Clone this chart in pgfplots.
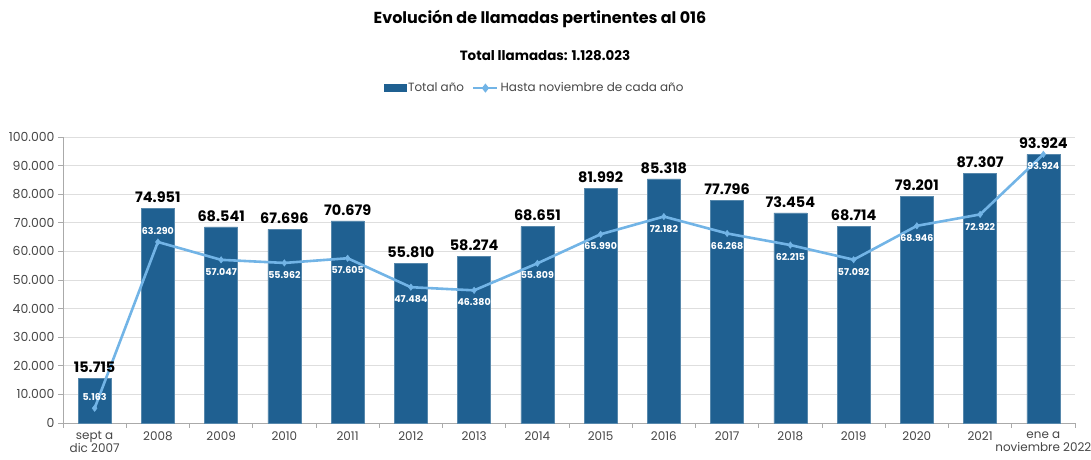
\documentclass[border=0pt]{standalone}
\usepackage{fontspec}
\setmainfont{Poppins}
\usepackage{pgfplots}
\pgfplotsset{compat=1.18}
\definecolor{barblue}{RGB}{31,96,145}
\definecolor{lineblue}{RGB}{114,180,230}
\definecolor{gridgray}{RGB}{222,222,222}
\definecolor{axgray}{RGB}{170,170,170}
\definecolor{txtgray}{RGB}{70,70,70}
\begin{document}
\begin{tikzpicture}[x=1bp,y=1bp]
\useasboundingbox (0,0) rectangle (1091,460);
\node[font=\bfseries\fontsize{16}{19}\selectfont] at (540,441) {Evolución de llamadas pertinentes al 016};
\node[font=\bfseries\fontsize{13.5}{16}\selectfont] at (545,404) {Total llamadas: 1.128.023};
\begin{axis}[at={(63bp,37bp)}, anchor=south west, scale only axis,
  width=1012bp, height=286bp,
  xmin=-0.5, xmax=15.5, ymin=0, ymax=100000,
  axis x line*=bottom, axis y line*=left,
  axis line style={axgray, line width=0.8bp},
  every tick/.style={axgray, line width=0.8bp},
  tick align=outside,
  xtick={0,...,15},
  major x tick style={draw=none},
  minor xtick={-0.5,0.5,...,15.5},
  minor tick length=5bp,
  major tick length=5bp,
  xticklabels={{sept a\\dic 2007},2008,2009,2010,2011,2012,2013,2014,2015,2016,2017,2018,2019,2020,2021,{ene a\\noviembre 2022}},
  xticklabel style={align=center, font=\fontsize{12}{13}\selectfont, text=txtgray},
  ytick={0,10000,...,100000},
  scaled y ticks=false,
  yticklabel={\pgfmathprintnumber[assume math mode=true,fixed,precision=0,1000 sep={.}]{\tick}},
  yticklabel style={font=\fontsize{12.5}{14}\selectfont, text=txtgray},
  ymajorgrids, grid style={gridgray, line width=0.8bp},
  legend style={at={(0.466,1.171)}, anchor=center, draw=none, fill=none,
    font=\fontsize{12}{14}\selectfont, text=txtgray, legend columns=2,
    /tikz/every even column/.append style={column sep=6bp}},
  clip=false,
]
\addplot[ybar, bar width=33bp, fill=barblue, draw=barblue!75!white,
  legend image code/.code={\fill[barblue] (0bp,-3.5bp) rectangle (22bp,3.5bp);},
  nodes near coords={\pgfmathprintnumber[assume math mode=true,fixed,precision=0,1000 sep={.}]{\pgfplotspointmeta}},
  every node near coord/.append style={font=\bfseries\fontsize{14.5}{16}\selectfont, black, anchor=south, yshift=2bp}]
 coordinates {(0,15715) (1,74951) (2,68541) (3,67696) (4,70679) (5,55810) (6,58274) (7,68651) (8,81992) (9,85318) (10,77796) (11,73454) (12,68714) (13,79201) (14,87307) (15,93924)};
\addlegendentry{Total año}
\addplot[lineblue, line width=2.6bp, mark=diamond*, mark size=3.2bp, mark options={fill=lineblue, solid, line width=0.5bp},
  legend image code/.code={\draw[lineblue, line width=2.6bp] (0bp,0bp)--(24bp,0bp); \fill[lineblue] (12bp,0bp) ++(0,2.5bp) -- ++(2bp,-2.5bp) -- ++(-2bp,-2.5bp) -- ++(-2bp,2.5bp) -- cycle;}]
 coordinates {(0,5163) (1,63290) (2,57047) (3,55962) (4,57605) (5,47484) (6,46380) (7,55809) (8,65990) (9,72182) (10,66268) (11,62215) (12,57092) (13,68946) (14,72922) (15,93924)};
\addlegendentry{Hasta noviembre de cada año}
\addplot[draw=none, mark=none, forget plot,
  nodes near coords={\pgfmathprintnumber[assume math mode=true,fixed,precision=0,1000 sep={.}]{\pgfplotspointmeta}},
  every node near coord/.append style={font=\bfseries\fontsize{9.5}{11}\selectfont, white, anchor=south, yshift=4bp}]
 coordinates {(0,5163) (1,63290)};
\addplot[draw=none, mark=none, forget plot,
  nodes near coords={\pgfmathprintnumber[assume math mode=true,fixed,precision=0,1000 sep={.}]{\pgfplotspointmeta}},
  every node near coord/.append style={font=\bfseries\fontsize{9.5}{11}\selectfont, white, anchor=north, yshift=-5bp}]
 coordinates {(2,57047) (3,55962) (4,57605) (5,47484) (6,46380) (7,55809) (8,65990) (9,72182) (10,66268) (11,62215) (12,57092) (13,68946) (14,72922) (15,93924)};
\end{axis}
\end{tikzpicture}
\end{document}
